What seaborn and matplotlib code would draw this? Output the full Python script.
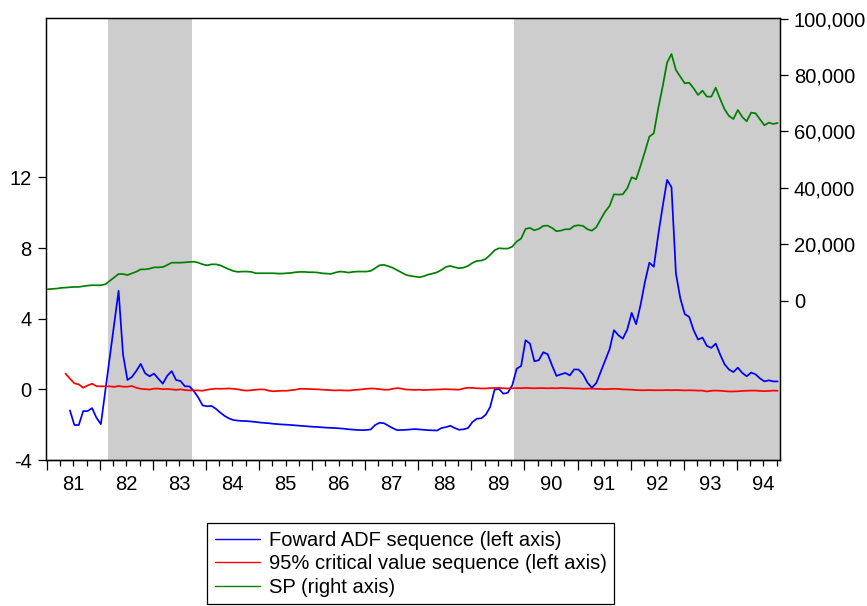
import numpy as np
import pandas as pd
import matplotlib
matplotlib.use("Agg")
import matplotlib.pyplot as plt
import seaborn as sns
from matplotlib.ticker import FixedLocator, FuncFormatter, NullFormatter

nan = np.nan

# ---------------- data (monthly, 1981M01 - 1994M10) ----------------
dates = pd.period_range("1981-01", "1994-10", freq="M")

adf_seq = [
    nan, nan, nan, nan, nan, -1.19, -2.02, -2.02, -1.23, -1.23, -1.06, -1.61,   # 1981
    -1.97, -0.08, 1.81, 3.69, 5.58, 1.98, 0.53, 0.70, 1.04, 1.44, 0.91, 0.74,   # 1982
    0.89, 0.60, 0.32, 0.77, 1.03, 0.53, 0.47, 0.17, 0.17, -0.09, -0.46, -0.91,  # 1983
    -0.96, -0.94, -1.10, -1.32, -1.51, -1.65, -1.74, -1.77, -1.79, -1.80, -1.82, -1.85,  # 1984
    -1.88, -1.90, -1.92, -1.95, -1.97, -1.99, -2.00, -2.02, -2.04, -2.06, -2.08, -2.10,  # 1985
    -2.12, -2.13, -2.15, -2.17, -2.18, -2.19, -2.21, -2.23, -2.26, -2.28, -2.30, -2.31,  # 1986
    -2.30, -2.27, -2.02, -1.89, -1.92, -2.06, -2.20, -2.31, -2.30, -2.29, -2.27, -2.25,  # 1987
    -2.27, -2.29, -2.31, -2.32, -2.33, -2.19, -2.14, -2.06, -2.19, -2.29, -2.26, -2.19,  # 1988
    -1.85, -1.66, -1.64, -1.44, -1.00, -0.02, 0.02, -0.25, -0.19, 0.23, 1.17, 1.32,     # 1989
    2.78, 2.59, 1.59, 1.65, 2.10, 1.99, 1.35, 0.76, 0.85, 0.93, 0.79, 1.13,             # 1990
    1.12, 0.85, 0.38, 0.09, 0.36, 1.00, 1.65, 2.27, 3.35, 3.06, 2.87, 3.39,             # 1991
    4.33, 3.69, 4.77, 6.09, 7.17, 6.94, 8.74, 10.35, 11.86, 11.44, 6.56, 5.14,          # 1992
    4.26, 4.10, 3.35, 2.82, 2.93, 2.46, 2.35, 2.59, 1.97, 1.42, 1.12, 0.98,             # 1993
    1.23, 0.93, 0.74, 0.95, 0.85, 0.62, 0.45, 0.51, 0.45, 0.45,                         # 1994
]

crit_seq = [
    nan, nan, nan, nan, 0.89, 0.61, 0.34, 0.28, 0.09, 0.22, 0.32, 0.18,          # 1981
    0.17, 0.17, 0.17, 0.14, 0.19, 0.15, 0.15, 0.19, 0.09, 0.03, 0.01, -0.01,     # 1982
    0.04, 0.04, 0.01, 0.02, 0.00, -0.03, 0.00, -0.04, -0.06, -0.06, -0.06, -0.08,  # 1983
    -0.02, 0.01, 0.04, 0.03, 0.04, 0.05, 0.03, 0.00, -0.05, -0.07, -0.05, -0.02,   # 1984
    0.00, -0.01, -0.08, -0.11, -0.09, -0.08, -0.08, -0.05, -0.02, 0.03, 0.03, 0.02,  # 1985
    0.01, 0.00, -0.02, -0.03, -0.05, -0.06, -0.05, -0.06, -0.07, -0.04, -0.02, 0.00,  # 1986
    0.03, 0.05, 0.04, 0.01, -0.02, -0.02, 0.03, 0.07, 0.04, -0.01, -0.02, -0.03,      # 1987
    -0.02, -0.04, -0.03, -0.02, -0.01, 0.00, 0.01, 0.00, -0.01, -0.02, 0.05, 0.09,    # 1988
    0.08, 0.06, 0.05, 0.05, 0.07, 0.08, 0.08, 0.06, 0.05, 0.06, 0.07, 0.07,           # 1989
    0.08, 0.07, 0.06, 0.07, 0.07, 0.06, 0.07, 0.06, 0.08, 0.07, 0.06, 0.05,           # 1990
    0.05, 0.03, 0.04, 0.04, 0.03, 0.02, 0.01, 0.02, 0.03, 0.02, 0.00, -0.01,          # 1991
    -0.02, -0.04, -0.05, -0.05, -0.04, -0.05, -0.05, -0.05, -0.04, -0.05, -0.04, -0.05,  # 1992
    -0.06, -0.05, -0.06, -0.07, -0.07, -0.12, -0.08, -0.07, -0.08, -0.10, -0.12, -0.12,  # 1993
    -0.11, -0.09, -0.08, -0.07, -0.07, -0.09, -0.10, -0.09, -0.07, -0.08,                # 1994
]

sp_index = [
    4030, 4150, 4260, 4500, 4610, 4730, 4850, 4850, 5100, 5320, 5440, 5440,            # 1981
    5440, 5790, 7000, 8240, 9420, 9420, 9060, 9660, 10250, 11080, 11080, 11320,        # 1982
    11790, 11790, 11910, 12620, 13450, 13450, 13450, 13560, 13680, 13800, 13450, 12860,  # 1983
    12500, 12860, 12860, 12500, 11790, 11080, 10490, 10180, 10300, 10300, 10180, 9700,   # 1984
    9700, 9700, 9700, 9700, 9590, 9590, 9700, 9820, 10060, 10180, 10180, 10060,          # 1985
    10060, 9940, 9700, 9590, 9470, 9940, 10300, 10180, 9940, 10180, 10300, 10300,        # 1986
    10300, 10530, 11480, 12540, 12660, 12190, 11600, 10770, 9940, 9110, 8760, 8520,      # 1987
    8290, 8640, 9230, 9590, 10060, 10890, 11950, 12300, 11830, 11480, 11710, 12300,      # 1988
    13370, 14080, 14190, 14790, 16210, 17860, 18570, 18450, 18450, 19160, 20930, 22000,  # 1989
    25430, 25780, 24950, 25430, 26490, 26610, 25780, 24600, 24830, 25310, 25310, 26490,  # 1990
    26730, 26490, 25310, 24800, 26020, 28850, 31570, 33580, 37720, 37600, 37720, 39850,  # 1991
    43750, 43040, 47770, 52850, 58170, 59350, 68210, 75900, 84410, 87480, 81810, 79440,  # 1992
    77080, 77310, 75310, 72940, 74480, 72350, 72350, 75540, 71520, 67860, 65490, 64430,  # 1993
    67620, 65140, 63610, 66680, 66440, 64310, 62190, 63130, 62660, 63010,                # 1994
]

shade_periods = [("1982-03", "1983-09"), ("1989-11", "1994-10")]
left_ticks = [-4, 0, 4, 8, 12]
right_ticks = [0, 20000, 40000, 60000, 80000, 100000]
years = list(range(1981, 1995))
year_labels = [f"{y % 100:02d}" for y in years]
series_labels = ["Foward ADF sequence (left axis)",
                 "95% critical value sequence (left axis)",
                 "SP (right axis)"]

# ---------------- styling ----------------
sns.set_style("white")
plt.rcParams["font.family"] = ["Liberation Sans", "DejaVu Sans"]
plt.rcParams["text.color"] = "black"
plt.rcParams["axes.labelcolor"] = "black"
plt.rcParams["xtick.color"] = "black"
plt.rcParams["ytick.color"] = "black"
FS = 14.5
LW = 1.25

# decimal-year position of each observation
xpos = np.array([d.year + (d.month - 1 + 0.25) / 12.0 for d in dates])
df = pd.DataFrame({"t": xpos, "adf": adf_seq, "cv": crit_seq, "sp": sp_index})

W, H = 867, 606
fig = plt.figure(figsize=(W / 100, H / 100), dpi=100)
ax = fig.add_axes([45.7 / W, (H - 460) / H, (780 - 45.7) / W, (460 - 17.7) / H])
ax2 = ax.twinx()

# shading
for a, b in shade_periods:
    pa, pb = pd.Period(a, "M"), pd.Period(b, "M")
    xa = pa.year + (pa.month - 1 + 0.25 - 0.5) / 12.0
    xb = pb.year + (pb.month - 1 + 0.25 + 0.5) / 12.0
    ax.axvspan(xa, xb, color="#cdcdcd", lw=0, zorder=0)

sns.lineplot(data=df, x="t", y="adf", ax=ax, color="#0000ff", lw=LW,
             estimator=None, sort=False, zorder=3)
sns.lineplot(data=df, x="t", y="cv", ax=ax, color="#ff0000", lw=LW,
             estimator=None, sort=False, zorder=3)
sns.lineplot(data=df, x="t", y="sp", ax=ax2, color="#008000", lw=LW,
             estimator=None, sort=False, zorder=3)

xlim = (1980.981, 1994.815)
ax.set_xlim(*xlim)
ax.set_ylim(-4, 21.04)
ax2.set_ylim(-56550, 100355)
ax.set_xlabel("")
ax.set_ylabel("")
ax2.set_ylabel("")

# left axis
ax.set_yticks(left_ticks)
ax.set_yticklabels([str(v) for v in left_ticks], fontsize=FS)
ax.tick_params(axis="y", direction="out", length=6, width=0.9, pad=4,
               left=True, right=False, colors="black")
# right axis
ax2.set_yticks(right_ticks)
ax2.yaxis.set_major_formatter(FuncFormatter(lambda v, p: f"{int(v):,}"))
ax2.tick_params(axis="y", direction="out", length=6, width=0.9, pad=4,
                right=True, left=False, colors="black", labelsize=FS)

# x axis: labels at mid-year, quarter minor ticks, long year-boundary ticks
ax.set_xticks([y + 0.5 for y in years])
ax.set_xticklabels(year_labels, fontsize=FS)
ax.xaxis.set_minor_locator(FixedLocator([y + q for y in years for q in (0.25, 0.75)]))
ax.xaxis.set_minor_formatter(NullFormatter())
ax.tick_params(axis="x", which="major", direction="out", length=4.0, width=0.9,
               pad=6.5, bottom=True, colors="black")
ax.tick_params(axis="x", which="minor", direction="out", length=4.0, width=0.9,
               bottom=True, colors="black")
sec = ax.secondary_xaxis("bottom")
sec.set_xticks(years)
sec.tick_params(axis="x", direction="out", length=7.5, width=0.9, labelbottom=False)
sec.spines["bottom"].set_linewidth(0.9)

for a_ in (ax, ax2):
    for s in a_.spines.values():
        s.set_visible(True)
        s.set_color("black")
        s.set_linewidth(0.9)

# legend
handles = [ax.lines[0], ax.lines[1], ax2.lines[0]]
leg = fig.legend(handles, series_labels, loc="lower left",
                 bbox_to_anchor=(207.3 / W, 1.7 / H), borderaxespad=0,
                 frameon=True, fancybox=False, edgecolor="black", framealpha=1,
                 fontsize=FS, borderpad=0.38, handlelength=2.23,
                 handletextpad=0.45, labelspacing=0.22)
leg.get_frame().set_linewidth(0.9)
for ln in leg.get_lines():
    ln.set_linewidth(1.0)

fig.savefig("out.png", dpi=100)
